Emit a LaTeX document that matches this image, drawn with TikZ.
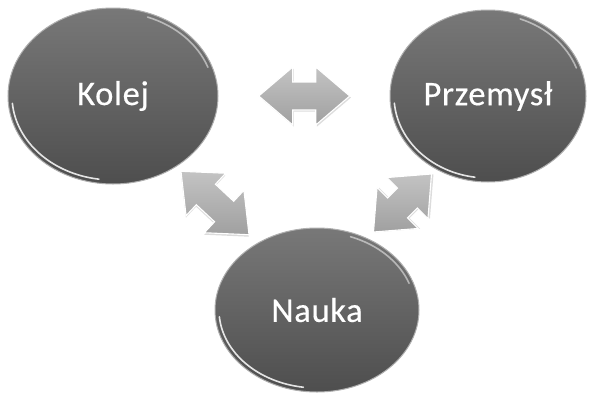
\documentclass[tikz,border=0pt]{standalone}
\usepackage{fontspec}
\setmainfont{Carlito}
\newfontfamily\ballfont{Carlito}[FakeBold=0.4,LetterSpace=2]
\usetikzlibrary{calc,shapes.geometric}
\definecolor{balltop}{RGB}{120,120,120}
\definecolor{ballbot}{RGB}{78,78,78}
\definecolor{ballrim}{RGB}{175,175,175}
\definecolor{arrtop}{RGB}{195,195,195}
\definecolor{arrbot}{RGB}{160,160,160}
\begin{document}
\begin{tikzpicture}[x=1pt,y=1pt,
  ball/.style={ellipse,inner sep=0pt,outer sep=0pt,top color=balltop,bottom color=ballbot,
    draw=ballrim,line width=1pt,text=white,font=\ballfont\fontsize{34.5}{40}\selectfont},
  rim/.style={white,line width=1.6pt,opacity=.85,line cap=round},
  arrfill/.style={top color=arrtop,bottom color=arrbot,draw=white,line width=1.1pt,line join=miter},
  arrshadow/.style={fill=black!30,opacity=.45},
  pics/dblarrow/.style={code={
    \path[arrshadow,shift={(1.2,-1.6)}] (-#1/2,0) -- (-#1/2+34,29) -- (-#1/2+34,14) -- (#1/2-34,14) -- (#1/2-34,29) -- (#1/2,0) -- (#1/2-34,-29) -- (#1/2-34,-14) -- (-#1/2+34,-14) -- (-#1/2+34,-29) -- cycle;
    \path[arrfill] (-#1/2,0) -- (-#1/2+34,29) -- (-#1/2+34,14) -- (#1/2-34,14) -- (#1/2-34,29) -- (#1/2,0) -- (#1/2-34,-29) -- (#1/2-34,-14) -- (-#1/2+34,-14) -- (-#1/2+34,-29) -- cycle;
  }}]
\useasboundingbox (0,0) rectangle (589,-397);
\node[ball,minimum width=210pt,minimum height=176pt] (kolej) at (113,-96) {Kolej};
\node[ball,minimum width=196pt,minimum height=172pt] (przemysl) at (488,-96) {Przemysł};
\node[ball,minimum width=204pt,minimum height=164pt] (nauka) at (317,-310) {Nauka};
% rim highlights
\draw[rim] ($(kolej.center)+(185:101 and 84)$) arc[start angle=185,end angle=262,x radius=101,y radius=84];
\draw[rim,opacity=.5] ($(kolej.center)+(20:101 and 84)$) arc[start angle=20,end angle=70,x radius=101,y radius=84];
\draw[rim] ($(przemysl.center)+(185:94 and 82)$) arc[start angle=185,end angle=262,x radius=94,y radius=82];
\draw[rim,opacity=.5] ($(przemysl.center)+(20:94 and 82)$) arc[start angle=20,end angle=70,x radius=94,y radius=82];
\draw[rim] ($(nauka.center)+(185:98 and 78)$) arc[start angle=185,end angle=262,x radius=98,y radius=78];
\draw[rim,opacity=.5] ($(nauka.center)+(20:98 and 78)$) arc[start angle=20,end angle=70,x radius=98,y radius=78];
% double arrows
\pic at ($(kolej)!0.51!(przemysl)$) {dblarrow=91};
\pic[rotate=-43] at ($(kolej)!0.5!(nauka)$) {dblarrow=93};
\pic[rotate=45] at ($(nauka)!0.5!(przemysl)$) {dblarrow=82};
\end{tikzpicture}
\end{document}
